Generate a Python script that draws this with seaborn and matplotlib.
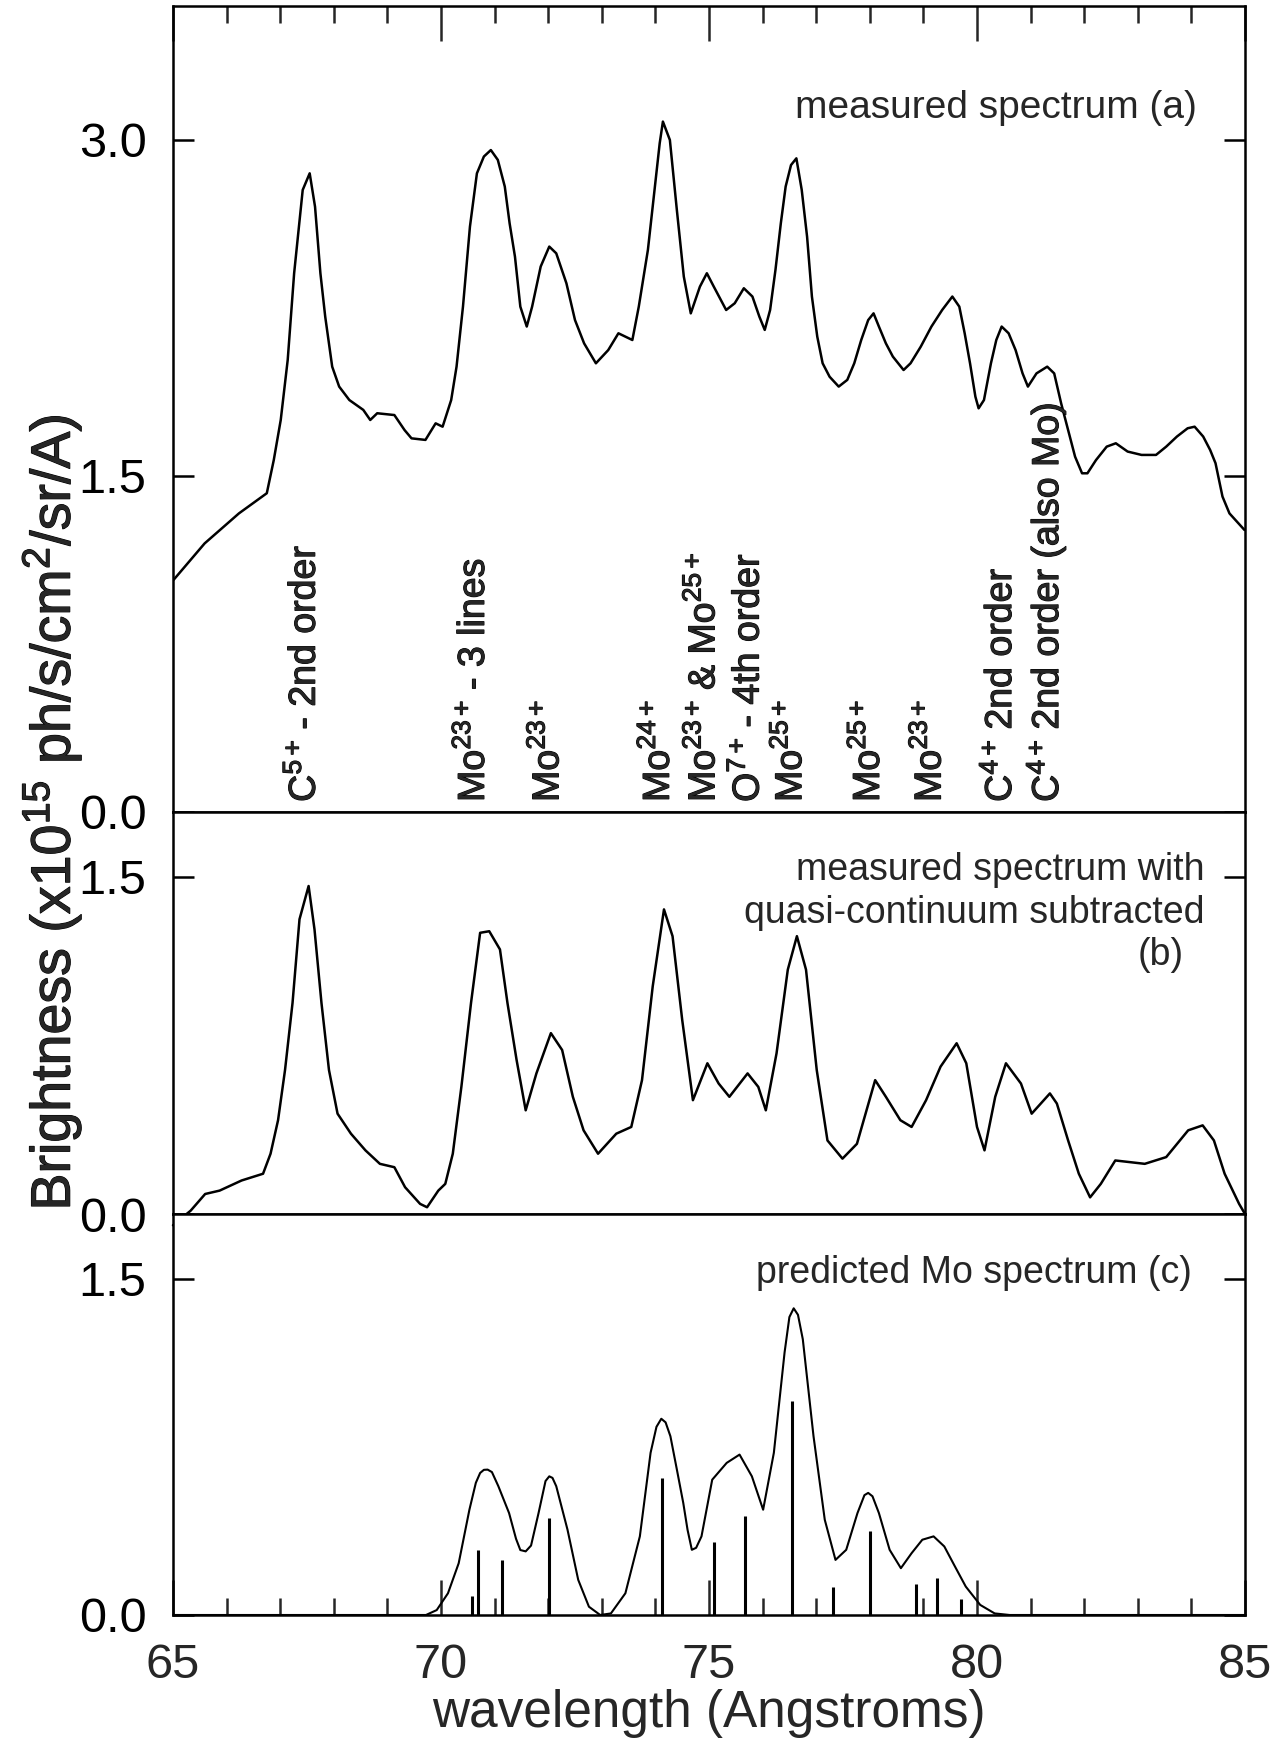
import numpy as np
import matplotlib
matplotlib.use("Agg")
import matplotlib.pyplot as plt
from matplotlib import patheffects
from matplotlib.ticker import MultipleLocator, FormatStrFormatter
import seaborn as sns

# (a) measured spectrum
wl_a = [65.01, 65.59, 66.23, 66.75, 66.88, 67.01, 67.14, 67.26, 67.42, 67.55,
        67.65, 67.75, 67.84, 67.97, 68.10, 68.29, 68.55, 68.68, 68.81, 69.13,
        69.32, 69.45, 69.71, 69.90, 70.03, 70.19, 70.29, 70.41, 70.54, 70.67,
        70.80, 70.93, 71.06, 71.19, 71.28, 71.38, 71.48, 71.60, 71.70, 71.86,
        72.02, 72.15, 72.34, 72.50, 72.67, 72.89, 73.12, 73.31, 73.57, 73.69,
        73.86, 73.95, 74.08, 74.14, 74.27, 74.40, 74.53, 74.66, 74.83, 74.96,
        75.09, 75.32, 75.48, 75.65, 75.81, 75.94, 76.04, 76.14, 76.24, 76.34,
        76.43, 76.53, 76.63, 76.73, 76.83, 76.92, 77.02, 77.12, 77.25, 77.42,
        77.58, 77.71, 77.84, 77.97, 78.07, 78.17, 78.30, 78.43, 78.63, 78.76,
        78.95, 79.15, 79.35, 79.54, 79.67, 79.77, 79.87, 79.97, 80.03, 80.13,
        80.26, 80.36, 80.46, 80.59, 80.72, 80.85, 80.95, 81.11, 81.31, 81.44,
        81.57, 81.70, 81.83, 81.96, 82.06, 82.22, 82.42, 82.59, 82.81, 83.07,
        83.34, 83.53, 83.73, 83.93, 84.06, 84.22, 84.35, 84.45, 84.58, 84.71,
        84.99]
br_a = [1.036, 1.199, 1.333, 1.423, 1.571, 1.750, 2.018, 2.405, 2.777, 2.851,
        2.702, 2.405, 2.211, 1.988, 1.899, 1.839, 1.795, 1.750, 1.780, 1.772,
        1.705, 1.668, 1.661, 1.735, 1.720, 1.839, 1.988, 2.256, 2.613, 2.851,
        2.926, 2.955, 2.911, 2.792, 2.628, 2.479, 2.256, 2.167, 2.256, 2.435,
        2.524, 2.494, 2.360, 2.196, 2.092, 2.003, 2.062, 2.137, 2.107, 2.256,
        2.509, 2.702, 2.985, 3.082, 3.000, 2.688, 2.390, 2.226, 2.345, 2.405,
        2.345, 2.241, 2.271, 2.338, 2.301, 2.211, 2.152, 2.241, 2.420, 2.628,
        2.792, 2.888, 2.918, 2.777, 2.568, 2.301, 2.122, 2.003, 1.943, 1.899,
        1.929, 2.003, 2.107, 2.196, 2.226, 2.167, 2.092, 2.033, 1.973, 2.003,
        2.077, 2.167, 2.241, 2.301, 2.256, 2.137, 2.003, 1.854, 1.802, 1.839,
        2.003, 2.107, 2.167, 2.137, 2.062, 1.958, 1.899, 1.958, 1.988, 1.958,
        1.824, 1.705, 1.586, 1.512, 1.512, 1.571, 1.631, 1.646, 1.609, 1.594,
        1.594, 1.631, 1.676, 1.713, 1.720, 1.676, 1.616, 1.557, 1.408, 1.333,
        1.259]

# (b) quasi-continuum subtracted
wl_b = [65.00, 65.33, 65.60, 65.87, 66.28, 66.68, 66.82, 66.96, 67.09, 67.23,
        67.36, 67.53, 67.64, 67.77, 67.91, 68.07, 68.32, 68.59, 68.86, 69.13,
        69.33, 69.61, 69.74, 69.95, 70.08, 70.22, 70.38, 70.56, 70.73, 70.90,
        71.10, 71.24, 71.41, 71.58, 71.78, 72.05, 72.26, 72.46, 72.66, 72.93,
        73.27, 73.55, 73.75, 73.95, 74.16, 74.32, 74.50, 74.70, 74.97, 75.18,
        75.38, 75.72, 75.92, 76.06, 76.26, 76.47, 76.64, 76.81, 77.01, 77.21,
        77.49, 77.76, 78.10, 78.30, 78.57, 78.78, 79.05, 79.32, 79.62, 79.80,
        80.00, 80.14, 80.34, 80.54, 80.82, 81.02, 81.36, 81.49, 81.70, 81.90,
        82.11, 82.31, 82.58, 83.13, 83.53, 83.94, 84.21, 84.42, 84.62, 84.89,
        85.00]
br_b = [-0.050, 0.015, 0.089, 0.104, 0.149, 0.179, 0.268, 0.417, 0.640, 0.938,
        1.310, 1.458, 1.265, 0.938, 0.640, 0.446, 0.357, 0.283, 0.223, 0.208,
        0.119, 0.045, 0.030, 0.104, 0.134, 0.268, 0.565, 0.938, 1.250, 1.257,
        1.176, 0.938, 0.685, 0.461, 0.625, 0.804, 0.729, 0.521, 0.372, 0.268,
        0.357, 0.387, 0.595, 1.012, 1.354, 1.235, 0.863, 0.506, 0.670, 0.580,
        0.521, 0.625, 0.565, 0.461, 0.714, 1.086, 1.235, 1.086, 0.640, 0.327,
        0.246, 0.312, 0.595, 0.521, 0.417, 0.387, 0.506, 0.655, 0.759, 0.670,
        0.387, 0.283, 0.521, 0.670, 0.580, 0.446, 0.536, 0.491, 0.327, 0.179,
        0.074, 0.134, 0.238, 0.223, 0.253, 0.372, 0.394, 0.327, 0.179, 0.045,
        0.000]

# (c) predicted Mo spectrum (envelope) and line strengths
wl_c = [65.00, 69.72, 69.92, 70.13, 70.33, 70.53, 70.65, 70.73, 70.80, 70.87,
        70.95, 71.07, 71.27, 71.40, 71.48, 71.58, 71.68, 71.82, 71.95, 72.02,
        72.08, 72.15, 72.36, 72.56, 72.76, 72.97, 73.17, 73.44, 73.71, 73.91,
        74.02, 74.11, 74.19, 74.28, 74.40, 74.52, 74.60, 74.68, 74.76, 74.86,
        75.06, 75.33, 75.57, 75.80, 76.01, 76.21, 76.41, 76.50, 76.58, 76.66,
        76.75, 76.95, 77.16, 77.36, 77.56, 77.77, 77.90, 77.97, 78.05, 78.17,
        78.37, 78.58, 78.78, 78.98, 79.19, 79.39, 79.59, 79.79, 80.06, 80.33,
        80.61, 85.00]
br_c = [0.000, 0.000, 0.022, 0.097, 0.231, 0.470, 0.590, 0.634, 0.648, 0.649,
        0.638, 0.575, 0.455, 0.340, 0.290, 0.284, 0.310, 0.455, 0.598, 0.619,
        0.612, 0.575, 0.381, 0.157, 0.037, 0.000, 0.007, 0.097, 0.351, 0.724,
        0.840, 0.876, 0.860, 0.798, 0.650, 0.500, 0.380, 0.291, 0.300, 0.351,
        0.604, 0.679, 0.716, 0.619, 0.470, 0.724, 1.172, 1.330, 1.369, 1.340,
        1.231, 0.798, 0.425, 0.246, 0.291, 0.455, 0.535, 0.545, 0.530, 0.455,
        0.291, 0.209, 0.276, 0.336, 0.351, 0.306, 0.216, 0.127, 0.045, 0.007,
        0.000, 0.000]
stick_wl = [70.58, 70.69, 71.14, 72.02, 74.13, 75.09, 75.67, 76.55, 77.32,
            78.01, 78.87, 79.25, 79.70]
stick_h = [0.085, 0.291, 0.246, 0.433, 0.612, 0.324, 0.440, 0.955, 0.124,
           0.373, 0.137, 0.164, 0.070]

# line identifications in panel (a)
label_wl = [67.45, 70.60, 71.99, 74.05, 74.90, 75.73, 76.52, 77.97, 79.12,
            80.44, 81.28]
label_txt = [r'C$^{\mathregular{5+}}\!$ - 2nd order',
             r'Mo$^{\mathregular{23+}}\!$ - 3 lines',
             r'Mo$^{\mathregular{23+}}$',
             r'Mo$^{\mathregular{24+}}$',
             r'Mo$^{\mathregular{23+}}\!$ & Mo$^{\mathregular{25+}}$',
             r'O$^{\mathregular{7+}}\!$ - 4th order',
             r'Mo$^{\mathregular{25+}}$',
             r'Mo$^{\mathregular{25+}}$',
             r'Mo$^{\mathregular{23+}}$',
             r'C$^{\mathregular{4+}}\!$ 2nd order',
             r'C$^{\mathregular{4+}}\!$ 2nd order (also Mo)']

sns.set_theme(style='ticks')
plt.rcParams['font.family'] = ['Liberation Sans', 'DejaVu Sans']
plt.rcParams['mathtext.fontset'] = 'custom'
plt.rcParams['mathtext.rm'] = 'Liberation Sans'
plt.rcParams['mathtext.it'] = 'Liberation Sans:italic'
plt.rcParams['mathtext.bf'] = 'Liberation Sans:bold'

# scanned print looks a bit heavier than plain type
heavy = [patheffects.withStroke(linewidth=0.8, foreground='black')]

W, H = 1284, 1741
fig = plt.figure(figsize=(W / 100, H / 100), dpi=100)
left, right = 173, 1245


def rect(top_px, bot_px):
    return [left / W, 1 - bot_px / H, (right - left) / W, (bot_px - top_px) / H]


ax_a = fig.add_axes(rect(6, 812))
ax_b = fig.add_axes(rect(812, 1214))
ax_c = fig.add_axes(rect(1214, 1615))

LW = 1.8
for ax, top in ((ax_a, 3.598), (ax_b, 1.787), (ax_c, 1.79)):
    ax.set_xlim(65, 85)
    ax.set_ylim(0, top)
    for s in ax.spines.values():
        s.set_linewidth(LW)
        s.set_color('black')
    ax.xaxis.set_major_locator(MultipleLocator(5))
    ax.xaxis.set_minor_locator(MultipleLocator(1))
    ax.yaxis.set_major_locator(MultipleLocator(1.5))
    ax.yaxis.set_major_formatter(FormatStrFormatter('%.1f'))
    ax.tick_params(axis='y', which='major', direction='in', length=15, width=LW,
                   left=True, right=True, labelleft=True, labelright=False,
                   labelsize=35, pad=19, colors='black')
    ax.tick_params(axis='y', which='minor', left=False, right=False)
    ax.set_xlabel('')
    ax.set_ylabel('')

ax_a.tick_params(axis='x', which='major', direction='in', length=25, width=LW,
                 top=True, bottom=False, labeltop=False, labelbottom=False)
ax_a.tick_params(axis='x', which='minor', direction='in', length=12, width=LW,
                 top=True, bottom=False)
ax_b.tick_params(axis='x', which='both', top=False, bottom=False,
                 labelbottom=False)
ax_c.tick_params(axis='x', which='major', direction='in', length=25, width=LW,
                 top=False, bottom=True, labelbottom=True, labelsize=35, pad=20)
ax_c.tick_params(axis='x', which='minor', direction='in', length=12, width=LW,
                 top=False, bottom=True)

sns.lineplot(x=wl_a, y=br_a, ax=ax_a, sort=False, estimator=None,
             color='black', lw=1.8)
sns.lineplot(x=wl_b, y=br_b, ax=ax_b, sort=False, estimator=None,
             color='black', lw=1.8)
ax_b.lines[-1].set_clip_on(False)
sns.lineplot(x=wl_c, y=br_c, ax=ax_c, sort=False, estimator=None,
             color='black', lw=1.5)
ax_c.vlines(stick_wl, 0, stick_h, colors='black', lw=2.2)

for x, t in zip(label_wl, label_txt):
    ax_a.text(x, 0.045, t, rotation=90, ha='center', va='bottom', fontsize=27,
              path_effects=heavy)

ax_a.text(84.1, 3.098, 'measured spectrum (a)', ha='right', va='baseline',
          fontsize=28)
ax_b.text(84.25, 1.484, 'measured spectrum with', ha='right', va='baseline',
          fontsize=27)
ax_b.text(84.25, 1.293, 'quasi-continuum subtracted', ha='right',
          va='baseline', fontsize=27)
ax_b.text(83.85, 1.107, '(b)', ha='right', va='baseline', fontsize=27)
ax_c.text(84.0, 1.48, 'predicted Mo spectrum (c)', ha='right', va='baseline',
          fontsize=27)

ax_c.set_xlabel('wavelength (Angstroms)', fontsize=37, labelpad=1)
fig.text(52 / W, 1 - 813 / H,
         r'Brightness (x10$^{\mathregular{15}}$ ph/s/cm$^{\mathregular{2}}$/sr/A)',
         rotation=90, ha='center', va='center', fontsize=40, path_effects=heavy)

fig.savefig('out.png', dpi=100)
